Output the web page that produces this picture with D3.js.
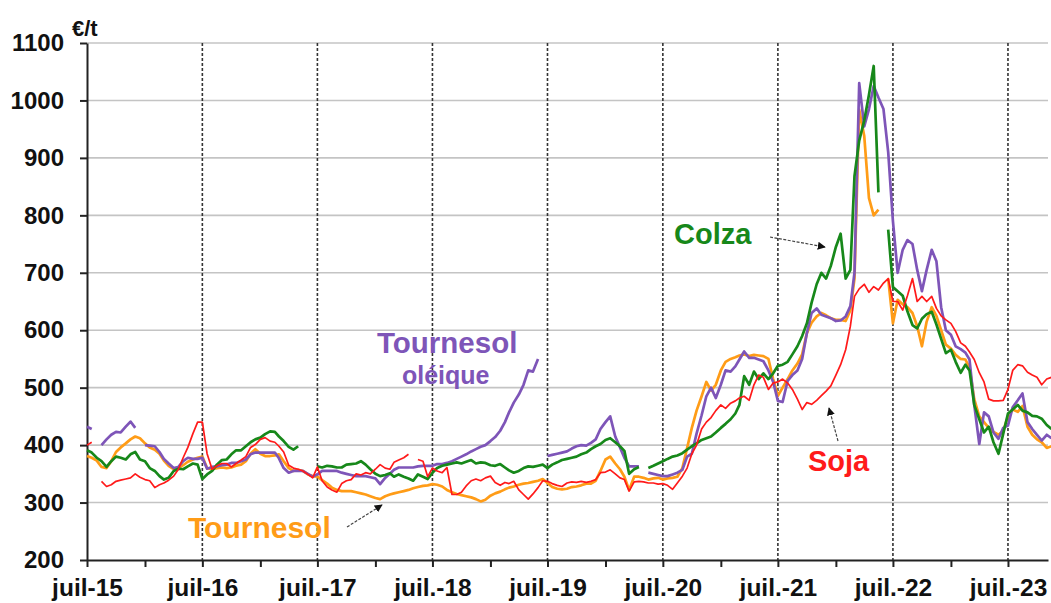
<!DOCTYPE html>
<html>
<head>
<meta charset="utf-8">
<script src="https://cdn.jsdelivr.net/npm/d3@7"></script>
<style>
body { margin: 0; background: #fff; }
text { font-family: "Liberation Sans", Arial, sans-serif; font-weight: bold; }
</style>
</head>
<body>
<div id="chart"></div>
<script>
// semi-monthly prices, 1st and 16th of each month from juil. 2015 (null = no quote)
const colza = [
  391,387,378,372,362,372,380,378,375,384,
  388,375,372,360,355,346,340,343,355,359,
  358,363,368,366,341,349,355,366,374,375,
  384,391,391,398,405,410,413,419,424,423,
  415,407,397,392,398,null,null,null,363,361,
  364,363,361,361,366,367,368,372,366,358,
  350,346,348,351,345,349,345,342,338,349,
  345,341,352,360,364,366,368,370,368,371,
  374,368,370,369,365,364,367,361,356,352,
  355,360,363,362,364,366,360,366,370,374,
  376,378,380,384,387,393,398,402,409,412,
  405,398,390,350,358,362,null,360,364,368,
  372,376,380,382,386,392,398,403,409,412,
  415,422,430,437,445,455,470,520,505,528,
  515,525,515,525,538,540,545,558,572,590,
  612,648,680,700,690,712,745,768,690,705,
  868,930,965,1010,1060,840,null,775,675,668,
  660,633,609,603,620,628,632,610,585,560,
  566,545,526,540,530,470,445,422,432,405,
  385,420,455,462,470,460,457,451,450,446,
  435,428
];
const tournesol = [
  381,378,373,362,360,372,388,396,403,410,
  415,412,403,396,392,385,373,364,358,360,
  365,371,375,378,380,360,358,360,361,360,
  361,364,366,372,385,393,385,381,381,382,
  384,372,360,355,357,355,349,346,345,339,
  333,326,322,320,320,320,318,316,314,311,
  308,306,311,314,316,318,320,322,325,327,
  329,330,332,331,328,322,318,315,313,311,
  309,306,302,305,312,316,319,323,326,328,
  331,333,334,336,338,341,334,327,324,323,
  324,327,328,330,333,333,338,355,375,380,
  368,358,345,322,345,345,343,340,342,343,
  340,342,343,345,360,395,430,460,485,510,
  495,505,530,545,550,553,556,558,555,557,
  556,555,550,515,486,500,515,530,542,558,
  595,613,624,630,626,621,618,618,616,635,
  690,984,938,830,800,810,null,690,612,653,
  645,640,630,607,572,615,640,625,600,575,
  568,557,550,549,535,480,450,440,430,423,
  418,425,450,462,458,468,432,418,410,405,
  395,398
];
const tournesolOleique = [
  432,428,null,400,410,418,423,422,432,441,
  430,null,400,399,398,388,376,368,360,362,
  372,378,376,376,378,359,362,363,365,366,
  369,369,372,375,384,387,387,387,387,387,
  377,360,352,355,355,355,350,345,349,355,
  355,355,355,352,350,348,346,346,346,344,
  342,332,343,350,357,361,361,361,361,363,
  364,364,364,367,367,369,372,376,380,384,
  389,393,397,400,407,414,425,440,457,474,
  488,505,530,528,550,null,381,383,385,387,
  389,394,398,400,399,404,410,428,440,450,
  415,396,378,363,363,363,null,352,350,348,
  346,346,349,352,357,380,385,420,452,485,
  500,482,505,530,528,537,549,563,552,552,
  549,546,530,510,477,475,512,522,530,550,
  595,630,638,627,624,621,616,617,624,642,
  700,1030,955,985,1025,1005,985,910,790,700,
  740,757,750,705,668,705,740,720,640,600,
  592,572,567,561,549,470,402,457,450,422,
  411,430,434,466,478,490,440,428,418,408,
  418,412
];
const soja = [
  400,405,null,337,328,331,337,339,341,343,
  350,344,340,338,326,331,334,339,346,358,
  378,396,420,440,440,385,358,364,368,368,
  362,368,374,380,396,401,410,413,407,405,
  398,388,365,360,358,355,349,343,362,338,
  327,322,318,333,338,340,350,348,352,350,
  358,366,360,358,370,374,378,384,null,375,
  372,345,360,355,352,361,314,314,318,329,
  338,341,338,343,346,335,330,335,333,337,
  322,314,306,315,326,338,337,333,330,328,
  334,336,335,337,335,337,340,352,353,357,
  350,343,340,320,336,337,336,334,334,332,
  333,330,323,334,346,360,385,400,428,440,
  448,460,470,464,473,477,482,485,478,505,
  522,518,497,508,510,515,508,497,480,462,
  474,471,478,486,494,503,522,540,566,607,
  659,672,680,666,676,670,682,690,650,650,
  635,660,690,650,659,650,659,638,625,618,
  612,598,578,572,562,549,526,510,480,477,
  477,478,497,530,540,538,527,522,518,505,
  515,518
];

const tickLabels = ["juil-15", "juil-16", "juil.-17", "juil.-18", "juil.-19",
                    "juil.-20", "juil.-21", "juil.-22", "juil.-23"];
const yTicks = [200, 300, 400, 500, 600, 700, 800, 900, 1000, 1100];

const width = 1051, height = 603,
  margin = {top: 43, right: 3, bottom: 43, left: 87};

const dates = colza.map((d, i) => new Date(2015, 6 + Math.floor(i / 2), i % 2 ? 16 : 1));
const julys = tickLabels.map((d, i) => new Date(2015 + i, 6, 1));
const januarys = tickLabels.map((d, i) => new Date(2016 + i, 0, 1));

const svg = d3.select("#chart").append("svg")
  .attr("width", width)
  .attr("height", height);

const x = d3.scaleTime()
  .domain([new Date(2015, 6, 1), new Date(2023, 10, 5)])
  .range([margin.left, 1048]);
const y = d3.scaleLinear()
  .domain([200, 1100])
  .range([height - margin.bottom, margin.top]);

// horizontal grid
svg.append("g")
  .selectAll("line")
  .data(yTicks.slice(1))
  .join("line")
    .attr("x1", margin.left).attr("x2", width - margin.right)
    .attr("y1", d => y(d)).attr("y2", d => y(d))
    .attr("stroke", "#c4c4c4")
    .attr("stroke-width", 1.6);

// dashed july lines
svg.append("g")
  .selectAll("line")
  .data(julys.slice(1))
  .join("line")
    .attr("x1", d => x(d)).attr("x2", d => x(d))
    .attr("y1", y(1100)).attr("y2", y(200))
    .attr("stroke", "#333")
    .attr("stroke-width", 1.6)
    .attr("stroke-dasharray", "3,2");

// axes
const yAxis = svg.append("g")
  .attr("transform", `translate(${margin.left},0)`)
  .call(d3.axisLeft(y).tickValues(yTicks).tickFormat(d3.format("d"))
    .tickSize(7).tickSizeOuter(0).tickPadding(16));
yAxis.selectAll("text").attr("font-size", 24).attr("fill", "#111");

const xAxis = svg.append("g")
  .attr("transform", `translate(0,${y(200)})`)
  .call(d3.axisBottom(x).tickValues(julys).tickSize(7).tickSizeOuter(0).tickPadding(12)
    .tickFormat((d, i) => tickLabels[i]));
xAxis.selectAll("text").attr("font-size", 24.5).attr("fill", "#111");

svg.append("g")
  .attr("transform", `translate(0,${y(200)})`)
  .call(d3.axisBottom(x).tickValues(januarys.filter(d => d < x.domain()[1]))
    .tickSize(7).tickSizeOuter(0).tickFormat(""))
  .select(".domain").remove();

svg.selectAll(".domain, .tick line").attr("stroke", "#222").attr("stroke-width", 2);

svg.append("text")
  .attr("x", 72).attr("y", 36)
  .attr("font-size", 22)
  .attr("fill", "#111")
  .text("€/t");

// series
const series = [
  {name: "Tournesol", values: tournesol, color: "#ff9c17", w: 2.7},
  {name: "Tournesol oléique", values: tournesolOleique, color: "#7e55b8", w: 2.7},
  {name: "Colza", values: colza, color: "#17881a", w: 2.7},
  {name: "Soja", values: soja, color: "#ff1a1a", w: 1.7}
];

const line = d3.line()
  .defined(d => d[1] != null)
  .x(d => x(d[0]))
  .y(d => y(d[1]));

svg.append("g")
  .selectAll("path")
  .data(series)
  .join("path")
    .attr("fill", "none")
    .attr("stroke", d => d.color)
    .attr("stroke-width", d => d.w)
    .attr("stroke-linejoin", "round")
    .attr("d", d => line(d.values.map((v, i) => [dates[i], v])));

// labels and arrows
svg.append("defs").append("marker")
  .attr("id", "head")
  .attr("viewBox", "0 0 10 10")
  .attr("refX", 9).attr("refY", 5)
  .attr("markerWidth", 8).attr("markerHeight", 8)
  .attr("markerUnits", "userSpaceOnUse")
  .attr("orient", "auto")
  .append("path")
    .attr("d", "M0,0L10,5L0,10z")
    .attr("fill", "#111");

const arrows = [
  [770, 237, 825, 247],
  [838, 441, 829, 408],
  [347, 527, 382, 505]
];
svg.append("g")
  .selectAll("line")
  .data(arrows)
  .join("line")
    .attr("x1", d => d[0]).attr("y1", d => d[1])
    .attr("x2", d => d[2]).attr("y2", d => d[3])
    .attr("stroke", "#444")
    .attr("stroke-width", 1.2)
    .attr("stroke-dasharray", "3,1.5")
    .attr("marker-end", "url(#head)");

const labels = [
  {text: "Colza", x: 674, y: 244, size: 29, color: "#17881a"},
  {text: "Soja", x: 808, y: 471, size: 29, color: "#ff1a1a"},
  {text: "Tournesol", x: 188, y: 538, size: 30, color: "#ff9c17"},
  {text: "Tournesol", x: 377, y: 353, size: 29.5, color: "#7e55b8"},
  {text: "oléique", x: 402, y: 384, size: 25, color: "#7e55b8"}
];
svg.append("g")
  .selectAll("text")
  .data(labels)
  .join("text")
    .attr("x", d => d.x).attr("y", d => d.y)
    .attr("font-size", d => d.size)
    .attr("fill", d => d.color)
    .text(d => d.text);
</script>
</body>
</html>
